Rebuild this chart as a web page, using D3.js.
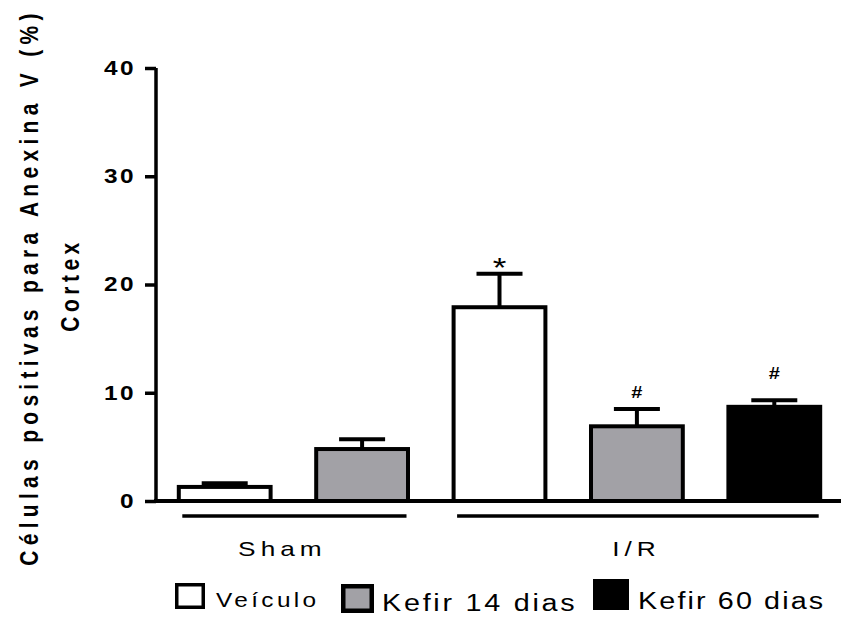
<!DOCTYPE html>
<html>
<head>
<meta charset="utf-8">
<script src="https://cdn.jsdelivr.net/npm/d3@7"></script>
<style>
  body { margin: 0; background: #fff; }
  text { font-family: "Liberation Sans", Arial, sans-serif; }
</style>
</head>
<body>
<svg id="chart" width="845" height="618"></svg>
<script>
// data
const groups = ['Sham', 'I/R'];
const seriesNames = ['Veículo', 'Kefir 14 dias', 'Kefir 60 dias'];
const seriesColors = ['#ffffff', '#a2a1a6', '#000000'];
const barGroup = ['Sham', 'Sham', 'I/R', 'I/R', 'I/R'];
const barSeries = [0, 1, 0, 1, 2];
const barMeans = [1.3, 4.8, 17.9, 6.9, 8.7];
const barErrors = [0.35, 0.9, 3.1, 1.6, 0.6];
const barMarks = ['', '', '*', '#', '#'];
const yTicks = [0, 10, 20, 30, 40];

// the source figure is a bit stretched sideways, text too
const kx = 1.25;

const svg = d3.select('#chart');

const x = d3.scaleBand()
  .domain(d3.range(barMeans.length))
  .range([156, 843])
  .paddingInner(0.31)
  .paddingOuter(0.155);

const y = d3.scaleLinear()
  .domain([0, 40])
  .range([501, 68]);

// bars
svg.selectAll('rect.bar')
  .data(barMeans)
  .enter().append('rect')
  .attr('class', 'bar')
  .attr('x', (d, i) => x(i) + 1.5)
  .attr('width', x.bandwidth() - 3)
  .attr('y', d => y(d))
  .attr('height', d => y(0) - y(d))
  .attr('fill', (d, i) => seriesColors[barSeries[i]])
  .attr('stroke', '#000')
  .attr('stroke-width', 4);

// error bars (upper only) + significance marks
barMeans.forEach((m, i) => {
  const cx = x(i) + x.bandwidth() / 2;
  const top = y(m + barErrors[i]);
  svg.append('line')
    .attr('x1', cx).attr('x2', cx)
    .attr('y1', y(m)).attr('y2', top)
    .attr('stroke', '#000').attr('stroke-width', 4);
  svg.append('line')
    .attr('x1', cx - 23).attr('x2', cx + 23)
    .attr('y1', top).attr('y2', top)
    .attr('stroke', '#000').attr('stroke-width', 4);
  if (barMarks[i] === '*') {
    svg.append('text')
      .attr('transform', 'translate(' + cx + ',' + (top + 3) + ') scale(' + kx + ',1)')
      .attr('text-anchor', 'middle')
      .style('font-size', '28px')
      .text('*');
  } else if (barMarks[i] === '#') {
    svg.append('text')
      .attr('transform', 'translate(' + cx + ',' + (y(m) - 28) + ') scale(' + kx + ',1)')
      .attr('text-anchor', 'middle')
      .style('font-size', '16px')
      .style('font-weight', 'bold')
      .text('#');
  }
});

// y axis
const yAxis = svg.append('g')
  .attr('transform', 'translate(156,0)')
  .call(d3.axisLeft(y).tickValues(yTicks).tickSize(11));
yAxis.select('.domain').attr('stroke-width', 3.5).attr('d', 'M0,' + y(40) + 'V' + (y(0) + 1.5));
yAxis.selectAll('.tick line').attr('stroke-width', 3.5);
yAxis.selectAll('.tick text')
  .attr('x', 0)
  .attr('transform', 'translate(-20,0) scale(' + kx + ',1)')
  .style('font-family', '"Liberation Sans", Arial, sans-serif')
  .style('font-size', '19.5px')
  .style('font-weight', 'bold')
  .style('letter-spacing', '2px')
  .attr('fill', '#000');

// baseline
svg.append('line')
  .attr('x1', 154).attr('x2', 841)
  .attr('y1', y(0)).attr('y2', y(0))
  .attr('stroke', '#000').attr('stroke-width', 4);

// group underlines and labels
const groupLabelShift = [-12, -1.5];
groups.forEach((g, gi) => {
  const idx = d3.range(barGroup.length).filter(i => barGroup[i] === g);
  const x0 = x(idx[0]) + 5;
  const x1 = x(idx[idx.length - 1]) + x.bandwidth() - 3;
  svg.append('line')
    .attr('x1', x0).attr('x2', x1)
    .attr('y1', 516).attr('y2', 516)
    .attr('stroke', '#000').attr('stroke-width', 3.5);
  svg.append('text')
    .attr('transform', 'translate(' + ((x0 + x1) / 2 + groupLabelShift[gi]) + ',556) scale(' + kx + ',1)')
    .attr('text-anchor', 'middle')
    .style('font-size', '21px')
    .style('letter-spacing', '4px')
    .text(g);
});

// y axis title, two lines
svg.append('text')
  .attr('transform', 'translate(38,287) scale(' + kx + ',1) rotate(-90)')
  .attr('text-anchor', 'middle')
  .style('font-size', '21px')
  .style('font-weight', 'bold')
  .style('letter-spacing', '5.3px')
  .text('Células positivas para Anexina V (%)');
svg.append('text')
  .attr('transform', 'translate(79,285) scale(' + kx + ',1) rotate(-90)')
  .attr('text-anchor', 'middle')
  .style('font-size', '21px')
  .style('font-weight', 'bold')
  .style('letter-spacing', '4.5px')
  .text('Cortex');

// legend
const legBox = [[175, 583, 30, 26], [341, 584, 33, 29], [593, 579, 36, 31]];
const legText = [[216, 607, 19.5, 2.7], [382, 611, 23, 2.2], [638, 609, 23, 1.7]];
seriesNames.forEach((name, i) => {
  const b = legBox[i];
  const sw = i === 0 ? 3.5 : i === 1 ? 4.5 : 0;
  svg.append('rect')
    .attr('x', b[0] + sw / 2).attr('y', b[1] + sw / 2)
    .attr('width', b[2] - sw).attr('height', b[3] - sw)
    .attr('fill', seriesColors[i])
    .attr('stroke', '#000')
    .attr('stroke-width', sw);
  const t = legText[i];
  svg.append('text')
    .attr('transform', 'translate(' + t[0] + ',' + t[1] + ') scale(' + kx + ',1)')
    .style('font-size', t[2] + 'px')
    .style('letter-spacing', t[3] + 'px')
    .text(name);
});
</script>
</body>
</html>
